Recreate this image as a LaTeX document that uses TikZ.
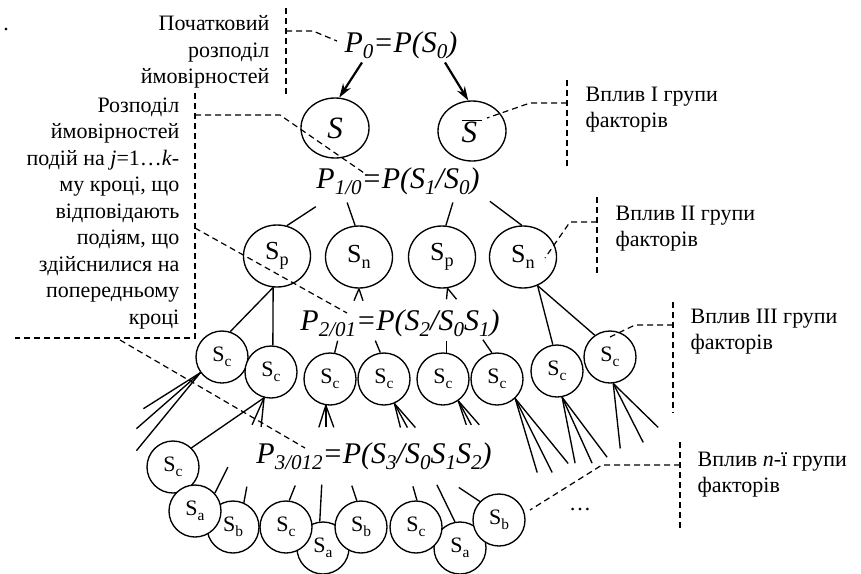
\documentclass[tikz,border=0pt]{standalone}
\usepackage{fontspec}
\setmainfont{LiberationSerif}[Extension=.ttf,UprightFont=*-Regular,ItalicFont=*-Italic,BoldFont=*-Bold,BoldItalicFont=*-BoldItalic]
\usetikzlibrary{arrows.meta,shapes.geometric}
% lowered subscript in text
\newcommand\lo[1]{\raisebox{-.22em}{\scalebox{.7}{#1}}}

\begin{document}
\begin{tikzpicture}[x=1pt,y=-1pt,line width=1.35pt,
    frm/.style={inner sep=0pt,font=\fontsize{30}{30}\selectfont\itshape},
    top/.style={draw,fill=white,ellipse,minimum width=68pt,minimum height=60pt,inner sep=0pt,font=\fontsize{31}{31}\selectfont\itshape},
    mid/.style={draw,fill=white,ellipse,minimum width=67pt,minimum height=62pt,inner sep=0pt,font=\fontsize{26}{26}\selectfont},
    low/.style={draw,fill=white,circle,minimum size=52pt,inner sep=0pt,font=\fontsize{22}{22}\selectfont},
    note/.style={inner sep=0pt,font=\fontsize{22}{26.5}\selectfont},
    lead/.style={dash pattern=on 6pt off 4pt,line width=1.2pt},
    arr/.style={-{Stealth[length=14pt,width=9pt]},line width=2.2pt}]
    \useasboundingbox (0,0) rectangle (861,573);

    % texts
    \node[note] (dot) at (6,30) {.};
    \node[note,align=right,anchor=north east] (t0) at (270,15) {Початковий\\розподіл\\ймовірностей};
    \node[note,align=right,anchor=north east] (t1) at (180,97) {Розподіл\\ймовірностей\\подій на \textit{j}=1…\textit{k}-\\му кроці, що\\відповідають\\подіям, що\\здійснилися на\\попередньому\\кроці};
    \node[note,align=left,anchor=north west] (g1) at (585,86) {Вплив I групи\\факторів};
    \node[note,align=left,anchor=north west] (g2) at (615,205) {Вплив II групи\\факторів};
    \node[note,align=left,anchor=north west] (g3) at (690,308) {Вплив III групи\\факторів};
    \node[note,align=left,anchor=north west] (gn) at (697,451) {Вплив \textit{n}-ї групи\\факторів};
    \node[note] (dots) at (580,510) {…};

    % formulas
    \node[frm] (p0) at (401,45) {P\lo{0}=P(S\lo{0})};
    \node[frm] (p10) at (398,181) {P\lo{1/0}=P(S\lo{1}/S\lo{0})};
    \node[frm] (p201) at (400,323) {P\lo{2/01}=P(S\lo{2}/S\lo{0}S\lo{1})};
    \node[frm] (p3) at (374,456) {P\lo{3/012}=P(S\lo{3}/S\lo{0}S\lo{1}S\lo{2})};

    % first step
    \node[top] (s) at (335,128) {S};
    \node[top] (sbar) at (472,131) {$\overline{\hbox{\textit{S}\,}}$};
    \draw[arr] ([xshift=-39pt,yshift=-3pt]p0.south) -- (s.82);
    \draw[arr] ([xshift=44pt,yshift=-3pt]p0.south) -- (sbar.97);

    % second step
    \node[mid] (sp1) at (277,256) {S\lo{p}};
    \node[mid] (sn1) at (359,257) {S\lo{n}};
    \node[mid] (sp2) at (442,257) {S\lo{p}};
    \node[mid] (sn2) at (523,257) {S\lo{n}};
    \draw (sp1.72) -- ++(29,-19);
    \draw (sn1.97) -- ++(-8,-23);
    \draw (sp2.83) -- ++(7,-23);
    \draw (sn2.92) -- ++(-32,-24);
    \draw (sn1.south) -- ++(-5,12) (sn1.south) -- ++(4,12);
    \draw (sp2.-80) -- ++(-1,11) (sp2.-80) -- ++(9,11);

    % third step
    \node[low] (sc1) at (222,357) {S\lo{c}};
    \node[low] (sc2) at (271,372) {S\lo{c}};
    \node[low] (sc3) at (330,379) {S\lo{c}};
    \node[low] (sc4) at (384,379) {S\lo{c}};
    \node[low] (sc5) at (443,379) {S\lo{c}};
    \node[low] (sc6) at (497,379) {S\lo{c}};
    \node[low] (sc7) at (557,371) {S\lo{c}};
    \node[low] (sc8) at (610,357) {S\lo{c}};
    \draw (sp1.-97) -- (sc1.72);
    \draw (sp1.-97) -- (sc2.86);
    \draw (sn2.-63) -- (sc7.99);
    \draw (sn2.-63) -- (sc8.125);
    \draw (sc3.80) -- ++(3,-12);
    \draw (sc4.98) -- ++(-5,-12);
    \draw (sc5.82) -- ++(0,-12);
    \draw (sc6.101) -- ++(-9,-13);
    % fans
    \foreach \dx/\dy in {-57/36,-64/56,-64/78} \draw (sc1.216) -- ++(\dx,\dy);
    \foreach \dx/\dy in {-12/27,-3/29} \draw (sc2.255) -- ++(\dx,\dy);
    \foreach \dx/\dy in {-7/22,0/22,8/22} \draw (sc3.261) -- ++(\dx,\dy);
    \foreach \dx/\dy in {6/24,13/24,21/24} \draw (sc4.293) -- ++(\dx,\dy);
    \foreach \dx/\dy in {8/24,13/24,21/24} \draw (sc5.305) -- ++(\dx,\dy);
    \foreach \dx/\dy in {22/74,37/74,53/65} \draw (sc6.313) -- ++(\dx,\dy);
    \foreach \dx/\dy in {13/66,30/66,45/60} \draw (sc7.281) -- ++(\dx,\dy);
    \foreach \dx/\dy in {7/65,30/59,45/44} \draw (sc8.277) -- ++(\dx,\dy);

    % fourth step
    \node[low] (sb1) at (233,527) {S\lo{b}};
    \node[low] (sa2) at (323,548) {S\lo{a}};
    \node[low] (sa3) at (460,548) {S\lo{a}};
    \node[low] (sc9) at (173,467) {S\lo{c}};
    \node[low] (sa1) at (195,511) {S\lo{a}};
    \node[low] (sc10) at (286,527) {S\lo{c}};
    \node[low] (sb2) at (361,527) {S\lo{b}};
    \node[low] (sc11) at (416,527) {S\lo{c}};
    \node[low] (sb3) at (499,520) {S\lo{b}};
    \draw (sc2.255) -- (sc9.46);
    \draw (sa1.42) -- ++(13,-26);
    \draw (sb1.66) -- ++(3,-16);
    \draw (sc10.83) -- ++(6,-15);
    \draw (sa2.97) -- ++(2,-37);
    \draw (sb2.99) -- ++(-5,-15);
    \draw (sc11.88) -- ++(-4,-14);
    \draw (sa3.101) -- ++(-18,-37);
    \draw (sb3.136) -- ++(-21,-14);

    % brackets and leaders
    \draw[lead] (286,8) -- (286,95);
    \draw[lead] (286,31) -- (313,31) -- (337,41);
    \draw[lead] (195,93) -- (195,338) -- (15,338);
    \draw[lead] (195,115) -- (280,115) -- (367,175);
    \draw[lead] (195,228) -- (347,313);
    \draw[lead] (120,340) -- (305,448);
    \draw[lead] (567,80) -- (567,167);
    \draw[lead] (567,103) -- (530,103) -- (487,118);
    \draw[lead] (597,197) -- (597,273);
    \draw[lead] (597,222) -- (570,222) -- (545,258);
    \draw[lead] (673,302) -- (673,413);
    \draw[lead] (673,325) -- (635,325) -- (610,337);
    \draw[lead] (680,442) -- (680,530);
    \draw[lead] (680,465) -- (602,465) -- (530,510);
\end{tikzpicture}
\end{document}
